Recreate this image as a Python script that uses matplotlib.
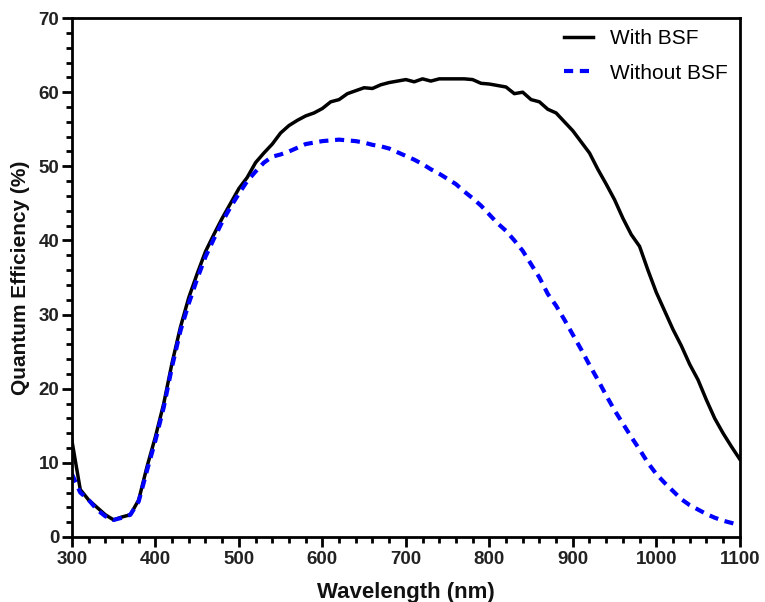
import numpy as np
import matplotlib.pyplot as plt
from matplotlib.ticker import MultipleLocator

plt.rcParams['font.family'] = ['Liberation Sans', 'DejaVu Sans']

# ------ Data -------------------------------
wavelength = np.arange(300, 1101, 10)

qe_with_bsf = [13.0, 6.4, 5.0, 4.0, 3.0, 2.3, 2.7, 3.0, 5.0, 9.5,
               13.5, 18.0, 23.5, 28.3, 32.3, 35.5, 38.5, 40.8, 43.0, 45.0,
               47.0, 48.5, 50.5, 51.8, 53.0, 54.5, 55.5, 56.2, 56.8, 57.2,
               57.8, 58.7, 59.0, 59.8, 60.2, 60.6, 60.5, 61.0, 61.3, 61.5,
               61.7, 61.4, 61.8, 61.5, 61.8, 61.8, 61.8, 61.8, 61.7, 61.2,
               61.1, 60.9, 60.7, 59.8, 60.0, 59.0, 58.7, 57.7, 57.2, 56.0,
               54.8, 53.3, 51.8, 49.6, 47.6, 45.5, 43.0, 40.8, 39.2, 36.0,
               33.0, 30.5, 28.0, 25.8, 23.3, 21.2, 18.5, 16.0, 14.0, 12.2,
               10.5]

qe_without_bsf = [8.5, 6.0, 5.0, 3.7, 2.8, 2.3, 2.6, 3.0, 4.8, 9.0,
                  13.0, 17.5, 23.0, 27.8, 31.5, 34.8, 37.8, 40.2, 42.5, 44.5,
                  46.3, 48.0, 49.3, 50.5, 51.3, 51.6, 52.0, 52.5, 53.0, 53.2,
                  53.4, 53.5, 53.6, 53.5, 53.4, 53.2, 52.9, 52.7, 52.4, 51.9,
                  51.4, 50.9, 50.3, 49.6, 49.0, 48.3, 47.6, 46.6, 45.7, 44.7,
                  43.5, 42.3, 41.3, 40.0, 38.6, 36.8, 35.0, 32.8, 31.2, 29.3,
                  27.3, 25.3, 23.2, 21.2, 19.1, 17.1, 15.3, 13.5, 11.8, 10.0,
                  8.5, 7.3, 6.2, 5.1, 4.3, 3.7, 3.1, 2.6, 2.2, 1.9,
                  1.6]

# ------ Set up figure layout --------
fig = plt.figure(figsize=(7.65, 6.02), dpi=100)
ax1 = fig.add_axes([0.094, 0.108, 0.873, 0.862])

ax1.plot(wavelength, qe_with_bsf, color='black', lw=2.5, label='With BSF')
ax1.plot(wavelength, qe_without_bsf, color='blue', lw=3, ls=(0, (2.2, 1.6)),
         label='Without BSF')

ax1.set_xlim(300, 1100)
ax1.set_ylim(0, 70)
ax1.xaxis.set_major_locator(MultipleLocator(100))
ax1.xaxis.set_minor_locator(MultipleLocator(20))
ax1.yaxis.set_major_locator(MultipleLocator(10))
ax1.yaxis.set_minor_locator(MultipleLocator(2))

for side in ax1.spines.values():
    side.set_linewidth(2)
ax1.tick_params(which='major', length=7, width=2, labelsize=13.5, pad=3)
ax1.tick_params(which='minor', length=4, width=2)
ax1.tick_params(axis='y', pad=2)
for lab in ax1.get_xticklabels() + ax1.get_yticklabels():
    lab.set_fontweight('bold')
    lab.set_color('#222222')

# ------ Axes Labels --------
ax1.set_xlabel('Wavelength (nm)', fontsize=16, fontweight='bold', labelpad=10,
               color='#111111')
ax1.set_ylabel('Quantum Efficiency (%)', fontsize=15, fontweight='bold', labelpad=6,
               color='#111111')

ax1.legend(loc='upper right', frameon=False, fontsize=15, handlelength=1.35,
           handletextpad=0.85, labelspacing=0.75, borderaxespad=0.0,
           bbox_to_anchor=(0.995, 0.995))

plt.savefig('out.png', dpi=100)
